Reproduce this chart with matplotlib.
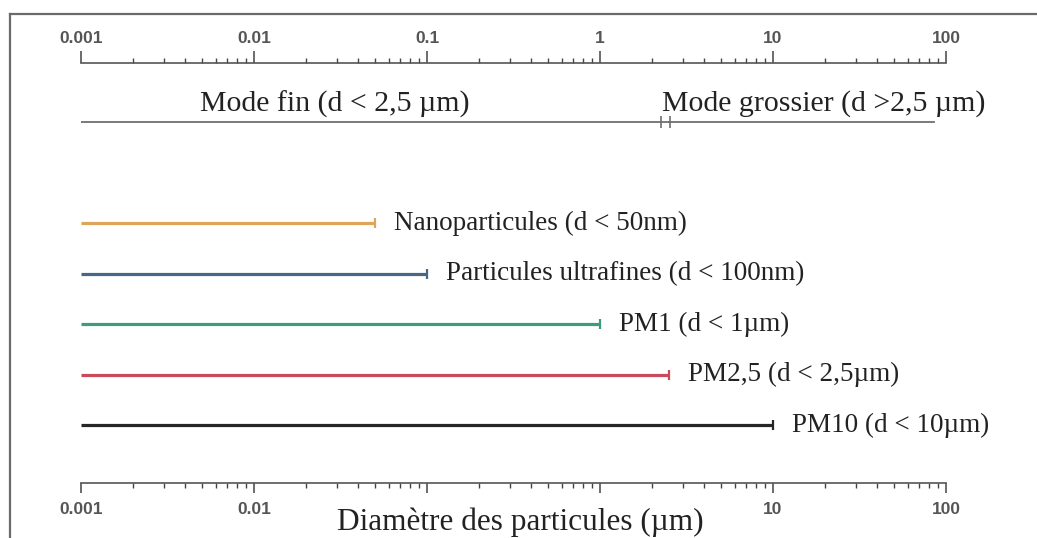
import matplotlib
matplotlib.use("Agg")
import matplotlib.pyplot as plt
from matplotlib.ticker import FixedLocator, FixedFormatter, LogLocator, NullFormatter
from matplotlib.lines import Line2D
import matplotlib.transforms as mtransforms

# Size classes: upper diameter limit (µm)
class_labels = [
    "Nanoparticules (d < 50nm)",
    "Particules ultrafines (d < 100nm)",
    "PM1 (d < 1µm)",
    "PM2,5 (d < 2,5µm)",
    "PM10 (d < 10µm)",
]
class_upper = [0.05, 0.1, 1.0, 2.5, 10.0]
class_colors = ["#dca55a", "#4a6685", "#3e9c7c", "#c94b5b", "#262626"]

# Fine / coarse modes
mode_labels = ["Mode fin (d < 2,5 µm)", "Mode grossier (d >2,5 µm)"]
mode_cut = 2.5
mode_upper = 85.0

# Ruler ticks
tick_values = [0.001, 0.01, 0.1, 1, 10, 100]
top_tick_labels = ["0.001", "0.01", "0.1", "1", "10", "100"]
bottom_tick_labels = ["0.001", "0.01", "", "", "10", "100"]
x_min, x_max = 0.001, 100

W, H = 1037, 538
fig = plt.figure(figsize=(W / 100, H / 100), dpi=100)
fig.patch.set_facecolor("white")

# axes spans from the top ruler to the bottom ruler
ax_left, ax_right = 81, 946
ax_top, ax_bottom = 63, 483
ax = fig.add_axes([ax_left / W, 1 - ax_bottom / H,
                   (ax_right - ax_left) / W, (ax_bottom - ax_top) / H])
ax.set_xscale("log")
ax.set_xlim(x_min, x_max)
# rows: series 0..4, mode line at row -2
row_px = 50.5
row0_px = 223
ax.set_ylim((ax_bottom - row0_px) / row_px, (ax_top - row0_px) / row_px)
ax.patch.set_alpha(0)

spine_color = "#555555"
tick_color = "#444444"
for s in ["left", "right", "top"]:
    ax.spines[s].set_visible(False)
ax.spines["bottom"].set_color(spine_color)
ax.spines["bottom"].set_linewidth(1.2)
ax.yaxis.set_visible(False)

tick_font = dict(family="Liberation Sans", weight="bold", size=12.5)

ax.xaxis.set_major_locator(FixedLocator(tick_values))
ax.xaxis.set_major_formatter(FixedFormatter(bottom_tick_labels))
ax.xaxis.set_minor_locator(LogLocator(base=10, subs=range(2, 10)))
ax.xaxis.set_minor_formatter(NullFormatter())
ax.tick_params(axis="x", which="major", direction="out", length=7.5, width=1.1,
               color=tick_color, pad=6, labelcolor="#555555")
ax.tick_params(axis="x", which="minor", direction="out", length=3.5, width=1.0,
               color=tick_color)
for lab in ax.get_xticklabels():
    lab.set_fontproperties(tick_font)

# top ruler
axt = ax.twiny()
axt.set_xscale("log")
axt.set_xlim(x_min, x_max)
for s in ["left", "right", "bottom"]:
    axt.spines[s].set_visible(False)
axt.spines["top"].set_color(spine_color)
axt.spines["top"].set_linewidth(1.2)
axt.xaxis.set_major_locator(FixedLocator(tick_values))
axt.xaxis.set_major_formatter(FixedFormatter(top_tick_labels))
axt.xaxis.set_minor_locator(LogLocator(base=10, subs=range(2, 10)))
axt.xaxis.set_minor_formatter(NullFormatter())
axt.tick_params(axis="x", which="major", direction="out", length=9, width=1.1,
                color=tick_color, pad=3, labelcolor="#555555")
axt.tick_params(axis="x", which="minor", direction="out", length=3.5, width=1.0,
                color=tick_color)
for lab in axt.get_xticklabels():
    lab.set_fontproperties(tick_font)

serif = "Liberation Serif"

# size-class bars with end caps
for i, (lab, up, col) in enumerate(zip(class_labels, class_upper, class_colors)):
    ax.plot([x_min, up], [i, i], color=col, lw=2.3, solid_capstyle="butt")
    ax.plot([up], [i], marker="|", color=col, markersize=7, mew=1.6)
    ax.annotate(lab, xy=(up, i), xytext=(14, 0), textcoords="offset points",
                ha="left", va="center", family=serif, size=19.5, color="#222222")

# fine / coarse mode bars
mode_row = -2
mode_color = "#6f6f6f"
ax.plot([x_min, mode_cut], [mode_row, mode_row], color=mode_color, lw=1.3)
ax.plot([mode_cut, mode_upper], [mode_row, mode_row], color=mode_color, lw=1.3)
for dx in (-8, 1):
    off = mtransforms.ScaledTranslation(dx / 100, 0, fig.dpi_scale_trans)
    ax.plot([mode_cut], [mode_row], marker="|", color=mode_color, markersize=8,
            mew=1.2, transform=ax.transData + off)

lab_trans = mtransforms.blended_transform_factory(ax.transAxes, ax.transData)
mode_text_row = (104 - row0_px) / row_px
ax.text((200 - ax_left) / (ax_right - ax_left), mode_text_row, mode_labels[0],
        transform=lab_trans, ha="left", va="center", family=serif, size=21.5,
        color="#222222")
ax.text((662 - ax_left) / (ax_right - ax_left), mode_text_row, mode_labels[1],
        transform=lab_trans, ha="left", va="center", family=serif, size=21.5,
        color="#222222")

# axis title sits in the bottom tick-label row
ax.set_xlabel("Diamètre des particules (µm)", family=serif, size=22.5,
              color="#222222")
ax.xaxis.set_label_coords((520 - ax_left) / (ax_right - ax_left),
                          (ax_bottom - 522) / (ax_bottom - ax_top))
ax.xaxis.label.set_va("center")

# outer frame (left and top edges)
frame_color = "#6a6a6a"
fig.add_artist(Line2D([9.5 / W, 9.5 / W], [0, 1 - 14 / H], color=frame_color,
                      lw=1.6, transform=fig.transFigure))
fig.add_artist(Line2D([9.5 / W, 1], [1 - 14 / H, 1 - 14 / H], color=frame_color,
                      lw=1.6, transform=fig.transFigure))

fig.savefig("out.png", dpi=100)
